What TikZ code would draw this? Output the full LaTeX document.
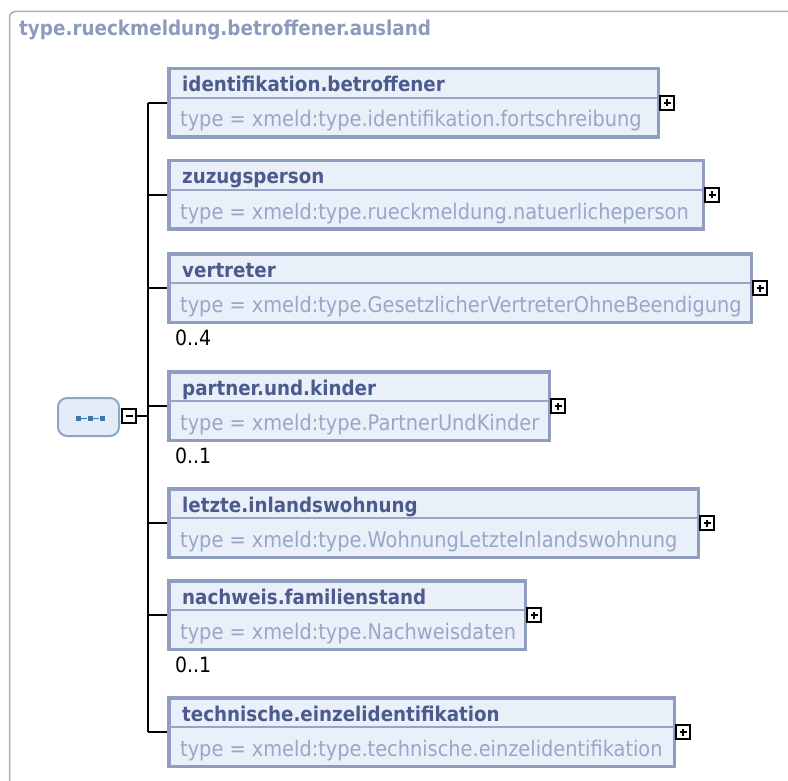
\documentclass[tikz,border=0pt]{standalone}
\usepackage{fontspec}
\setmainfont[FakeStretch=0.9]{DejaVu Sans}
\definecolor{frameline}{RGB}{160,174,204}
\definecolor{outertitle}{RGB}{140,154,190}
\definecolor{boxborder}{RGB}{143,157,192}
\definecolor{boxfill}{RGB}{234,240,250}
\definecolor{divcol}{RGB}{150,165,200}
\definecolor{titlecol}{RGB}{76,90,140}
\definecolor{typecol}{RGB}{152,167,198}
\definecolor{seqborder}{RGB}{138,166,200}
\definecolor{seqfill}{RGB}{228,237,247}
\definecolor{seqdot}{RGB}{60,120,170}
\tikzset{
  elembox/.style={draw=boxborder, fill=boxfill, line width=3.5pt, rectangle, anchor=north west, inner sep=0pt, minimum height=68.5pt},
  divider/.style={draw=divcol, line width=1.5pt},
  titletext/.style={anchor=base west, inner sep=0pt, text=titlecol, font=\fontsize{20.3}{24}\selectfont\bfseries},
  typetext/.style={anchor=base west, inner sep=0pt, text=typecol, font=\fontsize{21.5}{25}\selectfont},
  multtext/.style={anchor=base west, inner sep=0pt, text=black, font=\fontsize{21}{25}\selectfont},
  togglebox/.style={draw=black, fill=white, line width=2.2pt, rectangle, minimum size=14pt, inner sep=0pt},
  togglemark/.style={line width=2.2pt, black},
  conn/.style={line width=1.8pt, black},
}
\newcommand\elem[6]{%
  \node[elembox, minimum width={#3pt-170.5pt}] (#1) at (167,#2) {};
  \draw[divider] ([xshift=3pt,yshift=-31pt]#1.north west) -- ([xshift=-3pt,yshift=-31pt]#1.north east);
  \node[titletext] (#1t) at ([xshift=15pt,yshift=-25pt]#1.north west) {#4};
  \node[typetext] (#1s) at ([xshift=13pt,yshift=-60pt]#1.north west) {#5};
  \node[togglebox, anchor=west] (#1p) at ([xshift=-1pt]#1.east) {};
  \draw[togglemark] ([xshift=-3.5pt]#1p.center) -- ([xshift=3.5pt]#1p.center);
  \draw[togglemark] ([yshift=-3.5pt]#1p.center) -- ([yshift=3.5pt]#1p.center);
  \draw[conn] (spine |- #1.west) -- (#1.west);
}
\newcommand\multlabel[2]{%
  \node[multtext] (#1m) at ([xshift=8pt,yshift=-21pt]#1.south west) {#2};
}
\begin{document}
\begin{tikzpicture}[x=1pt,y=-1pt]
\useasboundingbox (0,0) rectangle (788,781);
\clip (0,0) rectangle (788,781);
\draw[frameline, line width=1.5pt, rounded corners=6pt] (9.5,800) -- (9.5,11.5) -- (800,11.5);
\node[anchor=base west, inner sep=0pt, text=outertitle, font=\fontsize{20.4}{24}\selectfont\bfseries] (outer) at (19,36) {type.rueckmeldung.betroffener.ausland};

\coordinate (spine) at (148,417);

\elem{e1}{67}{660}{identifikation.betroffener}{type = xmeld:type.identifikation.fortschreibung}{}
\elem{e2}{159}{705}{zuzugsperson}{type = xmeld:type.rueckmeldung.natuerlicheperson}{}
\elem{e3}{252}{753}{vertreter}{type = xmeld:type.GesetzlicherVertreterOhneBeendigung}{}
\elem{e4}{370}{551}{partner.und.kinder}{type = xmeld:type.PartnerUndKinder}{}
\elem{e5}{487}{700}{letzte.inlandswohnung}{type = xmeld:type.WohnungLetzteInlandswohnung}{}
\elem{e6}{579}{527}{nachweis.familienstand}{type = xmeld:type.Nachweisdaten}{}
\elem{e7}{696}{676}{technische.einzelidentifikation}{type = xmeld:type.technische.einzelidentifikation}{}

\multlabel{e3}{0..4}
\multlabel{e4}{0..1}
\multlabel{e6}{0..1}

\draw[conn] (spine |- e1.west) -- (spine |- e7.west);

% sequence compositor
\node[draw=seqborder, fill=seqfill, line width=2pt, rounded corners=9pt, minimum width=61pt, minimum height=38pt, inner sep=0pt] (seq) at (88.5,417) {};
\node[fill=seqdot, minimum size=5pt, inner sep=0pt] (d1) at (78,418) {};
\node[fill=seqdot, minimum size=5pt, inner sep=0pt] (d2) at (90,418) {};
\node[fill=seqdot, minimum size=5pt, inner sep=0pt] (d3) at (102,418) {};
\draw[seqdot, line width=1pt] (d1) -- (d2) -- (d3);
\node[togglebox, anchor=west] (seqm) at ([xshift=1pt]seq.east |- 0,416) {};
\draw[togglemark] ([xshift=-3.5pt]seqm.center) -- ([xshift=3.5pt]seqm.center);
\draw[conn] (seqm.east) -- (spine |- seqm.east);
\end{tikzpicture}
\end{document}
